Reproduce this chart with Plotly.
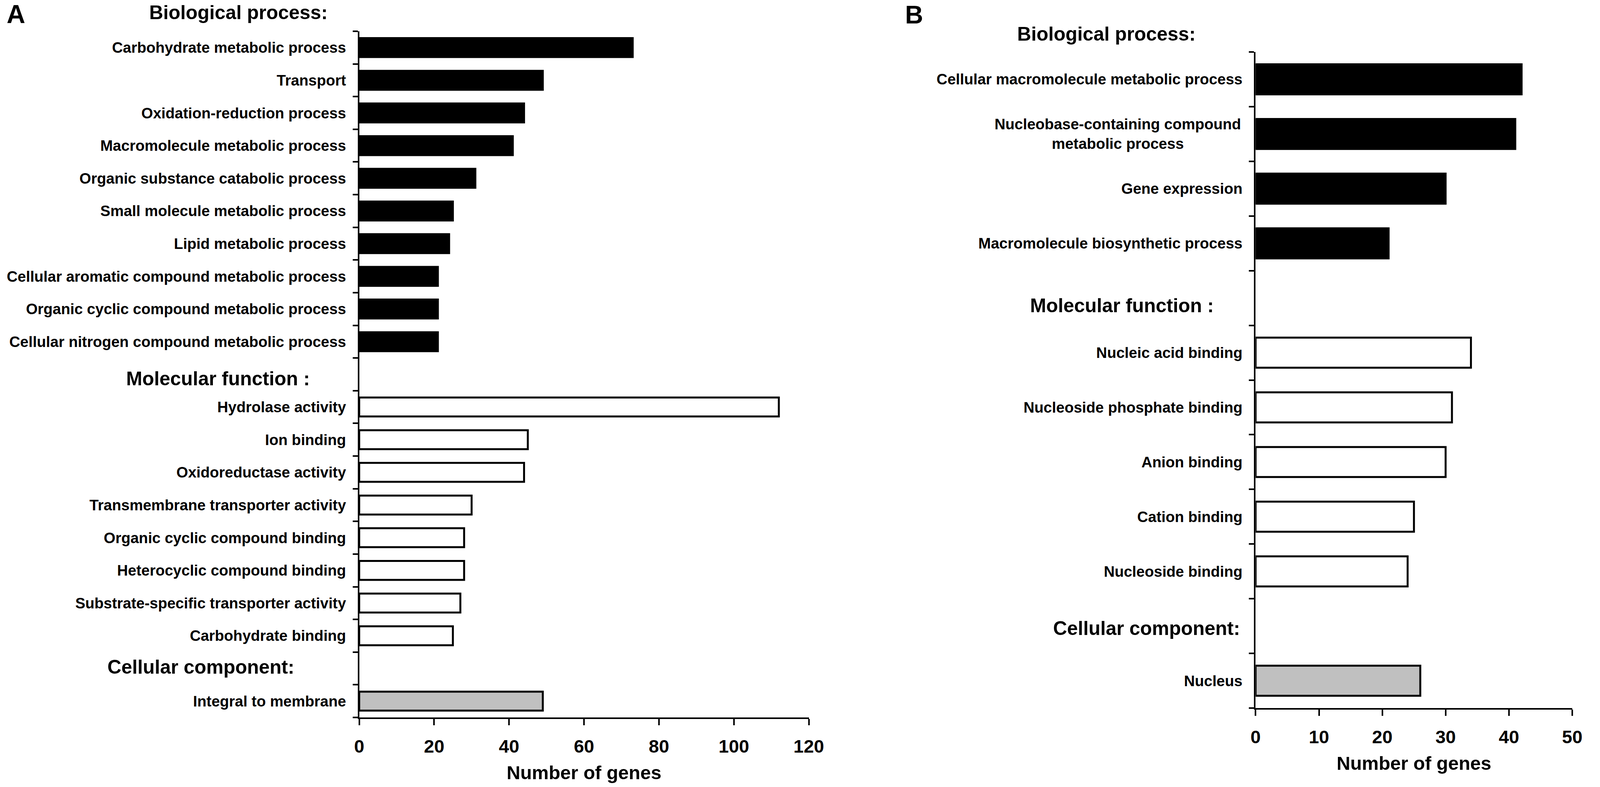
import plotly.graph_objects as go

# reference geometry (pixels of the 4550x2014 reference) -> paper fractions
REF_W, REF_H = 4550, 2014
# size of the browser viewport actually available
W, H = 4096, 2014

# ---------------- Panel A data ----------------
bp_A = ["Carbohydrate metabolic process", "Transport", "Oxidation-reduction process",
        "Macromolecule metabolic process", "Organic substance catabolic process",
        "Small molecule metabolic process", "Lipid metabolic process",
        "Cellular aromatic compound metabolic process",
        "Organic cyclic compound metabolic process",
        "Cellular nitrogen compound metabolic process"]
bp_A_vals = [73, 49, 44, 41, 31, 25, 24, 21, 21, 21]
mf_A = ["Hydrolase activity", "Ion binding", "Oxidoreductase activity",
        "Transmembrane transporter activity", "Organic cyclic compound binding",
        "Heterocyclic compound binding", "Substrate-specific transporter activity",
        "Carbohydrate binding"]
mf_A_vals = [112, 45, 44, 30, 28, 28, 27, 25]
cc_A = ["Integral to membrane"]
cc_A_vals = [49]
xticks_A = [0, 20, 40, 60, 80, 100, 120]

# ---------------- Panel B data ----------------
bp_B = ["Cellular macromolecule metabolic process",
        "Nucleobase-containing compound metabolic process",
        "Gene expression", "Macromolecule biosynthetic process"]
bp_B_vals = [42, 41, 30, 21]
mf_B = ["Nucleic acid binding", "Nucleoside phosphate binding", "Anion binding",
        "Cation binding", "Nucleoside binding"]
mf_B_vals = [34, 31, 30, 25, 24]
cc_B = ["Nucleus"]
cc_B_vals = [26]
xticks_B = [0, 10, 20, 30, 40, 50]

headers = ["Biological process:", "Molecular function :", "Cellular component:"]
wrapped_label = "Nucleobase-containing compound<br>metabolic process"
x_title = "Number of genes"

FONT = "Arial, Liberation Sans, sans-serif"
BLACK = "#000000"
GRAY = "#c0c0c0"

MF_KEY_A, CC_KEY_A = "hdrMF_A", "hdrCC_A"
MF_KEY_B, CC_KEY_B = "hdrMF_B", "hdrCC_B"
cats_A = bp_A + [MF_KEY_A] + mf_A + [CC_KEY_A] + cc_A
cats_B = bp_B + [MF_KEY_B] + mf_B + [CC_KEY_B] + cc_B

def ticktext(cats):
    return ["" if (c.startswith("hdr") or c == bp_B[1]) else c for c in cats]

fig = go.Figure()

def add_bars(cats, vals, color, xa, ya, width):
    fig.add_trace(go.Bar(
        y=cats, x=vals, orientation="h", xaxis=xa, yaxis=ya,
        width=width, showlegend=False,
        marker=dict(color=color, line=dict(color=BLACK, width=5)),
        hoverinfo="skip"))

add_bars(bp_A, bp_A_vals, BLACK, "x", "y", 0.58)
add_bars(mf_A, mf_A_vals, "#ffffff", "x", "y", 0.58)
add_bars(cc_A, cc_A_vals, GRAY, "x", "y", 0.58)
add_bars(bp_B, bp_B_vals, BLACK, "x2", "y2", 0.55)
add_bars(mf_B, mf_B_vals, "#ffffff", "x2", "y2", 0.55)
add_bars(cc_B, cc_B_vals, GRAY, "x2", "y2", 0.55)

def px_x(v):
    return v / REF_W

def px_y(v):
    return 1 - v / REF_H

LABEL_SIZE = 38.5
TICK_SIZE = 47
TITLE_SIZE = 48.5
HDR_SIZE = 49.5

xaxis_common = dict(
    showline=True, linecolor=BLACK, linewidth=4, mirror=False,
    ticks="outside", ticklen=16, tickwidth=4, tickcolor=BLACK,
    showgrid=False, zeroline=False, ticklabelstandoff=14,
    tickfont=dict(family=FONT, size=TICK_SIZE, color=BLACK, weight="bold"),
    title=dict(text=x_title,
               font=dict(family=FONT, size=TITLE_SIZE, color=BLACK, weight="bold"),
               standoff=26),
)
yaxis_common = dict(
    type="category", showline=True, linecolor=BLACK, linewidth=4,
    ticks="outside", ticklen=13, tickwidth=4, tickcolor=BLACK,
    tickson="boundaries", showgrid=False, zeroline=False, ticklabelstandoff=22,
    tickfont=dict(family=FONT, size=LABEL_SIZE, color=BLACK, weight="bold"),
    tickmode="array",
)

fig.update_layout(
    width=W, height=H,
    margin=dict(l=0, r=0, t=0, b=0),
    paper_bgcolor="white", plot_bgcolor="white",
    barmode="overlay",
    xaxis=dict(domain=[px_x(1020), px_x(2315)], range=[0, 120],
               tickmode="array", tickvals=xticks_A, anchor="y", **xaxis_common),
    yaxis=dict(domain=[px_y(1836), px_y(80)], anchor="x",
               categoryorder="array", categoryarray=cats_A,
               tickvals=cats_A, ticktext=ticktext(cats_A),
               range=[len(cats_A) - 0.5, -0.5], **yaxis_common),
    xaxis2=dict(domain=[px_x(3602), px_x(4514)], range=[0, 50],
                tickmode="array", tickvals=xticks_B, anchor="y2", **xaxis_common),
    yaxis2=dict(domain=[px_y(1812), px_y(133)], anchor="x2",
                categoryorder="array", categoryarray=cats_B,
                tickvals=cats_B, ticktext=ticktext(cats_B),
                range=[len(cats_B) - 0.5, -0.5], **yaxis_common),
)

def hdr(text, xpx, ypx, size=HDR_SIZE):
    fig.add_annotation(text=text, xref="paper", yref="paper",
                       x=px_x(xpx), y=px_y(ypx), xanchor="left", yanchor="middle",
                       showarrow=False,
                       font=dict(family=FONT, size=size, color=BLACK, weight="bold"))

hdr("A", 2, 36, size=66)
hdr("B", 2590, 38, size=64)
hdr(headers[0], 413, 32)
hdr(headers[1], 346, 968)
hdr(headers[2], 292, 1706)
hdr(headers[0], 2913, 86)
hdr(headers[1], 2950, 781)
hdr(headers[2], 3016, 1607)

fig.add_annotation(text=wrapped_label, xref="paper", yref="y2",
                   x=px_x(3562), y=bp_B[1], xanchor="right", yanchor="middle",
                   align="center", showarrow=False,
                   font=dict(family=FONT, size=LABEL_SIZE, color=BLACK, weight="bold"))

reset_margin = "document.body.style.margin='0';document.body.style.overflow='hidden';"
fig.write_html("out.html", post_script=reset_margin,
               config={"displayModeBar": False})
